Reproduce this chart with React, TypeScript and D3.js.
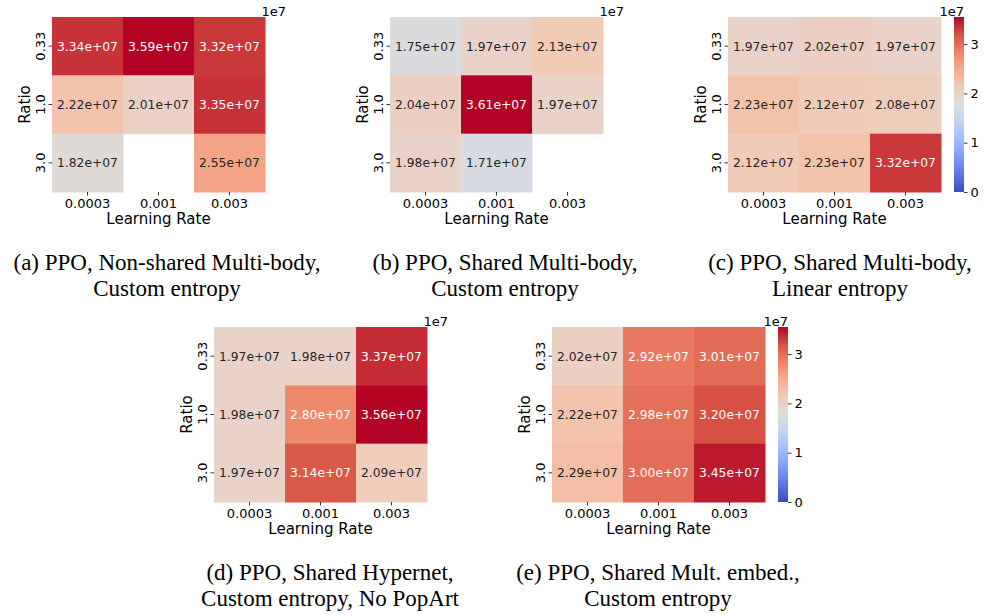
import React, { useEffect, useRef } from 'react';
import * as d3 from 'd3';

// axis categories shared by every panel
const lrLabels = ['0.0003', '0.001', '0.003'];
const ratioLabels = ['0.33', '1.0', '3.0'];

// mean returns per cell (rows = ratio, cols = learning rate), null = no run
const valuesA = [
  [3.34e7, 3.59e7, 3.32e7],
  [2.22e7, 2.01e7, 3.35e7],
  [1.82e7, null, 2.55e7],
];
const valuesB = [
  [1.75e7, 1.97e7, 2.13e7],
  [2.04e7, 3.61e7, 1.97e7],
  [1.98e7, 1.71e7, null],
];
const valuesC = [
  [1.97e7, 2.02e7, 1.97e7],
  [2.23e7, 2.12e7, 2.08e7],
  [2.12e7, 2.23e7, 3.32e7],
];
const valuesD = [
  [1.97e7, 1.98e7, 3.37e7],
  [1.98e7, 2.8e7, 3.56e7],
  [1.97e7, 3.14e7, 2.09e7],
];
const valuesE = [
  [2.02e7, 2.92e7, 3.01e7],
  [2.22e7, 2.98e7, 3.2e7],
  [2.29e7, 3.0e7, 3.45e7],
];

const captionA = ['(a) PPO, Non-shared Multi-body,', 'Custom entropy'];
const captionB = ['(b) PPO, Shared Multi-body,', 'Custom entropy'];
const captionC = ['(c) PPO, Shared Multi-body,', 'Linear entropy'];
const captionD = ['(d) PPO, Shared Hypernet,', 'Custom entropy, No PopArt'];
const captionE = ['(e) PPO, Shared Mult. embed.,', 'Custom entropy'];

const colorbarTicks = [0, 1e7, 2e7, 3e7];
const vmin = 0;
const vmax = 3.55e7;

// matplotlib coolwarm sampled at 11 points
const coolwarm = [
  '#3b4cc0', '#5977e3', '#7b9ff9', '#9ebeff', '#c0d4f5', '#dddcdc',
  '#f2cbb7', '#f7ac8e', '#ee8468', '#d65244', '#b40426',
];

const panels = [
  { values: valuesA, caption: captionA, left: 52, top: 17, cx: 167, colorbar: false },
  { values: valuesB, caption: captionB, left: 390, top: 17, cx: 505, colorbar: false },
  { values: valuesC, caption: captionC, left: 728, top: 17, cx: 840, colorbar: true },
  { values: valuesD, caption: captionD, left: 214, top: 327, cx: 330, colorbar: false },
  { values: valuesE, caption: captionE, left: 552, top: 327, cx: 658, colorbar: true },
];

const fmt = (v) => v.toExponential(2).replace(/e\+(\d)$/, 'e+0$1');

const App = () => {
  const svgRef = useRef();

  useEffect(() => {
    document.body.style.margin = '0';
    const svg = d3.select(svgRef.current);
    svg.selectAll('*').remove();

    const width = 213;
    const height = 175;
    const font = 'DejaVu Sans, sans-serif';

    const color = d3.scaleLinear()
      .domain(d3.range(coolwarm.length).map((i) => vmin + (i / (coolwarm.length - 1)) * (vmax - vmin)))
      .range(coolwarm)
      .interpolate(d3.interpolateRgb)
      .clamp(true);

    // seaborn picks dark or white annotation text from the cell luminance
    const textColor = (v) => {
      const c = d3.rgb(color(v));
      const lin = (u) => {
        u /= 255;
        return u <= 0.03928 ? u / 12.92 : Math.pow((u + 0.055) / 1.055, 2.4);
      };
      const lum = 0.2126 * lin(c.r) + 0.7152 * lin(c.g) + 0.0722 * lin(c.b);
      return lum > 0.408 ? '#262626' : '#ffffff';
    };

    const defs = svg.append('defs');
    const grad = defs.append('linearGradient')
      .attr('id', 'cw')
      .attr('x1', 0).attr('y1', 1).attr('x2', 0).attr('y2', 0);
    coolwarm.forEach((c, i) => {
      grad.append('stop')
        .attr('offset', i / (coolwarm.length - 1))
        .attr('stop-color', c);
    });

    panels.forEach((p) => {
      const g = svg.append('g');
      const x = d3.scaleBand().domain(lrLabels).range([p.left, p.left + width]);
      const y = d3.scaleBand().domain(ratioLabels).range([p.top, p.top + height]);

      const cells = [];
      p.values.forEach((row, i) => {
        row.forEach((v, j) => {
          if (v !== null) cells.push({ r: ratioLabels[i], c: lrLabels[j], v });
        });
      });

      g.selectAll('rect.cell')
        .data(cells)
        .enter()
        .append('rect')
        .attr('class', 'cell')
        .attr('x', (d) => x(d.c))
        .attr('y', (d) => y(d.r))
        .attr('width', x.bandwidth() + 0.5)
        .attr('height', y.bandwidth() + 0.5)
        .attr('fill', (d) => color(d.v));

      g.selectAll('text.annot')
        .data(cells)
        .enter()
        .append('text')
        .attr('class', 'annot')
        .attr('x', (d) => x(d.c) + x.bandwidth() / 2)
        .attr('y', (d) => y(d.r) + y.bandwidth() / 2)
        .attr('dy', '0.36em')
        .attr('text-anchor', 'middle')
        .style('font-family', font)
        .style('font-size', '12.3px')
        .attr('fill', (d) => textColor(d.v))
        .text((d) => fmt(d.v));

      // x ticks
      lrLabels.forEach((l) => {
        const cx = x(l) + x.bandwidth() / 2;
        g.append('line')
          .attr('x1', cx).attr('x2', cx)
          .attr('y1', p.top + height).attr('y2', p.top + height + 3.5)
          .attr('stroke', '#000').attr('stroke-width', 0.8);
        g.append('text')
          .attr('x', cx)
          .attr('y', p.top + height + 15.5)
          .attr('text-anchor', 'middle')
          .style('font-family', font)
          .style('font-size', '13px')
          .text(l);
      });

      // y ticks
      ratioLabels.forEach((l) => {
        const cy = y(l) + y.bandwidth() / 2;
        g.append('line')
          .attr('x1', p.left - 3.5).attr('x2', p.left)
          .attr('y1', cy).attr('y2', cy)
          .attr('stroke', '#000').attr('stroke-width', 0.8);
        g.append('text')
          .attr('transform', `translate(${p.left - 7},${cy}) rotate(-90)`)
          .attr('text-anchor', 'middle')
          .style('font-family', font)
          .style('font-size', '13px')
          .text(l);
      });

      g.append('text')
        .attr('x', p.left + width / 2)
        .attr('y', p.top + height + 32)
        .attr('text-anchor', 'middle')
        .style('font-family', font)
        .style('font-size', '15px')
        .text('Learning Rate');

      g.append('text')
        .attr('transform', `translate(${p.left - 22},${p.top + height / 2}) rotate(-90)`)
        .attr('text-anchor', 'middle')
        .style('font-family', font)
        .style('font-size', '15px')
        .text('Ratio');

      let offsetRight = p.left + width + 21;
      if (p.colorbar) {
        const cbLeft = p.left + width + 13;
        const cbW = 10;
        offsetRight = cbLeft + cbW;
        g.append('rect')
          .attr('x', cbLeft).attr('y', p.top)
          .attr('width', cbW).attr('height', height)
          .attr('fill', 'url(#cw)');
        const cb = d3.scaleLinear().domain([vmin, vmax]).range([p.top + height, p.top]);
        const axis = d3.axisRight(cb)
          .tickValues(colorbarTicks)
          .tickSize(3.5)
          .tickPadding(3)
          .tickFormat((d) => String(d / 1e7));
        const ag = g.append('g')
          .attr('transform', `translate(${cbLeft + cbW},0)`)
          .call(axis);
        ag.select('.domain').remove();
        ag.selectAll('line').attr('stroke', '#000').attr('stroke-width', 0.8);
        ag.selectAll('text')
          .style('font-family', font)
          .style('font-size', '13px')
          .attr('fill', '#000');
      }

      g.append('text')
        .attr('x', offsetRight)
        .attr('y', p.top - 1)
        .attr('text-anchor', 'end')
        .style('font-family', font)
        .style('font-size', '13px')
        .text('1e7');

      const capY = p.top + 253;
      p.caption.forEach((line, i) => {
        g.append('text')
          .attr('x', p.cx)
          .attr('y', capY + i * 26)
          .attr('text-anchor', 'middle')
          .style('font-family', 'Liberation Serif, Times New Roman, serif')
          .style('font-size', '23px')
          .text(line);
      });
    });
  }, []);

  return <svg ref={svgRef} width={985} height={615} style={{ display: 'block' }}></svg>;
};

export default App;
